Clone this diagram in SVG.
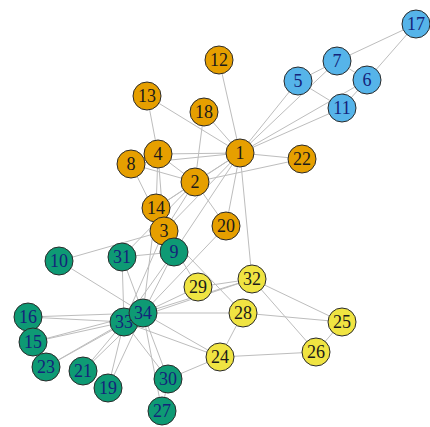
<svg xmlns="http://www.w3.org/2000/svg" width="430" height="427" viewBox="0 0 430 427">
<style>
.e{stroke:#bdbdbd;stroke-width:1;fill:none}
circle{stroke:#2a2a2a;stroke-width:1}
.o circle{fill:#E69F00}.b circle{fill:#56B4E9}.g circle{fill:#0E9A74}.y circle{fill:#F0E442}
text{font-family:"Liberation Serif","DejaVu Serif",serif;font-size:18px;text-anchor:middle;dominant-baseline:central}
.o text,.y text{fill:#1a1a1a}.b text,.g text{fill:#14237a}
</style>
<rect width="430" height="427" fill="#fff"/>
<g id="edges" class="e">
<line x1="240" y1="153" x2="195" y2="182"/><line x1="240" y1="153" x2="164" y2="231"/><line x1="240" y1="153" x2="158" y2="154"/><line x1="240" y1="153" x2="298" y2="81"/><line x1="240" y1="153" x2="367" y2="80"/><line x1="240" y1="153" x2="337" y2="61"/><line x1="240" y1="153" x2="131" y2="164"/><line x1="240" y1="153" x2="174" y2="252"/><line x1="240" y1="153" x2="342" y2="108"/><line x1="240" y1="153" x2="219" y2="60"/><line x1="240" y1="153" x2="147" y2="96"/><line x1="240" y1="153" x2="156" y2="208"/><line x1="240" y1="153" x2="204" y2="112"/><line x1="240" y1="153" x2="226" y2="226"/><line x1="240" y1="153" x2="302" y2="159"/><line x1="240" y1="153" x2="252" y2="279"/>
<line x1="195" y1="182" x2="164" y2="231"/><line x1="195" y1="182" x2="158" y2="154"/><line x1="195" y1="182" x2="131" y2="164"/><line x1="195" y1="182" x2="156" y2="208"/><line x1="195" y1="182" x2="204" y2="112"/><line x1="195" y1="182" x2="226" y2="226"/><line x1="195" y1="182" x2="302" y2="159"/><line x1="195" y1="182" x2="122" y2="257"/>
<line x1="164" y1="231" x2="158" y2="154"/><line x1="164" y1="231" x2="131" y2="164"/><line x1="164" y1="231" x2="174" y2="252"/><line x1="164" y1="231" x2="59" y2="261"/><line x1="164" y1="231" x2="156" y2="208"/><line x1="164" y1="231" x2="243" y2="313"/><line x1="164" y1="231" x2="198" y2="287"/><line x1="164" y1="231" x2="124" y2="322"/>
<line x1="158" y1="154" x2="131" y2="164"/><line x1="158" y1="154" x2="147" y2="96"/><line x1="158" y1="154" x2="156" y2="208"/>
<line x1="298" y1="81" x2="337" y2="61"/><line x1="298" y1="81" x2="342" y2="108"/>
<line x1="367" y1="80" x2="337" y2="61"/><line x1="367" y1="80" x2="342" y2="108"/><line x1="367" y1="80" x2="416" y2="24"/>
<line x1="337" y1="61" x2="416" y2="24"/>
<line x1="174" y1="252" x2="122" y2="257"/><line x1="174" y1="252" x2="124" y2="322"/><line x1="174" y1="252" x2="143" y2="313"/>
<line x1="59" y1="261" x2="143" y2="313"/>
<line x1="156" y1="208" x2="143" y2="313"/>
<line x1="33" y1="342" x2="124" y2="322"/><line x1="33" y1="342" x2="143" y2="313"/>
<line x1="28" y1="317" x2="124" y2="322"/><line x1="28" y1="317" x2="143" y2="313"/>
<line x1="108" y1="388" x2="124" y2="322"/><line x1="108" y1="388" x2="143" y2="313"/>
<line x1="226" y1="226" x2="143" y2="313"/>
<line x1="83" y1="371" x2="124" y2="322"/><line x1="83" y1="371" x2="143" y2="313"/>
<line x1="46" y1="367" x2="124" y2="322"/><line x1="46" y1="367" x2="143" y2="313"/>
<line x1="220" y1="357" x2="316" y2="352"/><line x1="220" y1="357" x2="243" y2="313"/><line x1="220" y1="357" x2="168" y2="379"/><line x1="220" y1="357" x2="124" y2="322"/><line x1="220" y1="357" x2="143" y2="313"/>
<line x1="342" y1="322" x2="316" y2="352"/><line x1="342" y1="322" x2="243" y2="313"/><line x1="342" y1="322" x2="252" y2="279"/>
<line x1="316" y1="352" x2="252" y2="279"/>
<line x1="162" y1="411" x2="168" y2="379"/><line x1="162" y1="411" x2="143" y2="313"/>
<line x1="243" y1="313" x2="143" y2="313"/>
<line x1="198" y1="287" x2="252" y2="279"/><line x1="198" y1="287" x2="143" y2="313"/>
<line x1="168" y1="379" x2="124" y2="322"/><line x1="168" y1="379" x2="143" y2="313"/>
<line x1="122" y1="257" x2="124" y2="322"/><line x1="122" y1="257" x2="143" y2="313"/>
<line x1="252" y1="279" x2="124" y2="322"/><line x1="252" y1="279" x2="143" y2="313"/>
<line x1="124" y1="322" x2="143" y2="313"/>
</g>
<g id="n1" class="o"><circle cx="240" cy="153" r="14"/><text x="240" y="153">1</text></g>
<g id="n2" class="o"><circle cx="195" cy="182" r="14"/><text x="195" y="182">2</text></g>
<g id="n4" class="o"><circle cx="158" cy="154" r="14"/><text x="158" y="154">4</text></g>
<g id="n8" class="o"><circle cx="131" cy="164" r="14"/><text x="131" y="164">8</text></g>
<g id="n12" class="o"><circle cx="219" cy="60" r="14"/><text x="219" y="60">12</text></g>
<g id="n13" class="o"><circle cx="147" cy="96" r="14"/><text x="147" y="96">13</text></g>
<g id="n14" class="o"><circle cx="156" cy="208" r="14"/><text x="156" y="208">14</text></g>
<g id="n3" class="o"><circle cx="164" cy="231" r="14"/><text x="164" y="231">3</text></g>
<g id="n18" class="o"><circle cx="204" cy="112" r="14"/><text x="204" y="112">18</text></g>
<g id="n20" class="o"><circle cx="226" cy="226" r="14"/><text x="226" y="226">20</text></g>
<g id="n22" class="o"><circle cx="302" cy="159" r="14"/><text x="302" y="159">22</text></g>
<g id="n5" class="b"><circle cx="298" cy="81" r="14"/><text x="298" y="81">5</text></g>
<g id="n6" class="b"><circle cx="367" cy="80" r="14"/><text x="367" y="80">6</text></g>
<g id="n7" class="b"><circle cx="337" cy="61" r="14"/><text x="337" y="61">7</text></g>
<g id="n11" class="b"><circle cx="342" cy="108" r="14"/><text x="342" y="108">11</text></g>
<g id="n17" class="b"><circle cx="416" cy="24" r="14"/><text x="416" y="24">17</text></g>
<g id="n9" class="g"><circle cx="174" cy="252" r="14"/><text x="174" y="252">9</text></g>
<g id="n10" class="g"><circle cx="59" cy="261" r="14"/><text x="59" y="261">10</text></g>
<g id="n16" class="g"><circle cx="28" cy="317" r="14"/><text x="28" y="317">16</text></g>
<g id="n15" class="g"><circle cx="33" cy="342" r="14"/><text x="33" y="342">15</text></g>
<g id="n23" class="g"><circle cx="46" cy="367" r="14"/><text x="46" y="367">23</text></g>
<g id="n19" class="g"><circle cx="108" cy="388" r="14"/><text x="108" y="388">19</text></g>
<g id="n21" class="g"><circle cx="83" cy="371" r="14"/><text x="83" y="371">21</text></g>
<g id="n27" class="g"><circle cx="162" cy="411" r="14"/><text x="162" y="411">27</text></g>
<g id="n30" class="g"><circle cx="168" cy="379" r="14"/><text x="168" y="379">30</text></g>
<g id="n31" class="g"><circle cx="122" cy="257" r="14"/><text x="122" y="257">31</text></g>
<g id="n33" class="g"><circle cx="124" cy="322" r="14"/><text x="124" y="322">33</text></g>
<g id="n34" class="g"><circle cx="143" cy="313" r="14"/><text x="143" y="313">34</text></g>
<g id="n24" class="y"><circle cx="220" cy="357" r="14"/><text x="220" y="357">24</text></g>
<g id="n25" class="y"><circle cx="342" cy="322" r="14"/><text x="342" y="322">25</text></g>
<g id="n26" class="y"><circle cx="316" cy="352" r="14"/><text x="316" y="352">26</text></g>
<g id="n28" class="y"><circle cx="243" cy="313" r="14"/><text x="243" y="313">28</text></g>
<g id="n29" class="y"><circle cx="198" cy="287" r="14"/><text x="198" y="287">29</text></g>
<g id="n32" class="y"><circle cx="252" cy="279" r="14"/><text x="252" y="279">32</text></g>
</svg>
